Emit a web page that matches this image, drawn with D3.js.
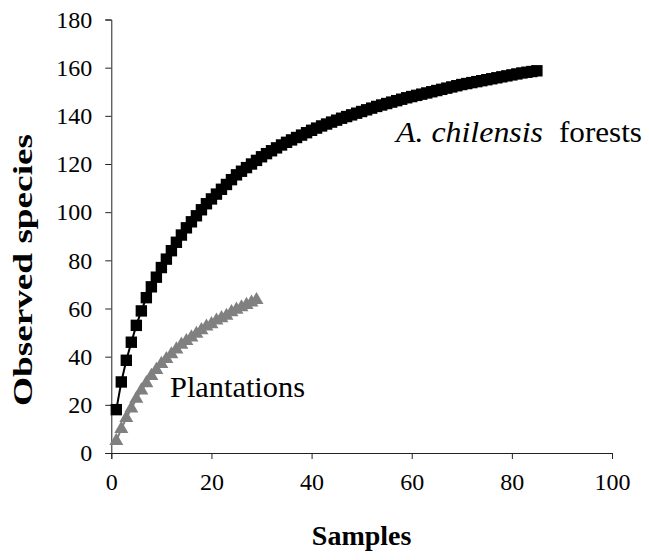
<!DOCTYPE html>
<html>
<head>
<meta charset="utf-8">
<script src="https://cdn.jsdelivr.net/npm/d3@7/dist/d3.min.js"></script>
<style>
  html, body { margin: 0; padding: 0; background: #fff; }
  svg { display: block; }
</style>
</head>
<body>
<svg id="chart" width="649" height="560"></svg>
<script>
// ---- data ----
const forestSamples = d3.range(1, 86);
const forestValues = [
  18, 29.5, 38.5, 46, 53, 59, 64.5, 69, 73, 77,
  80.5, 84, 87.5, 90.5, 93.5, 96, 98.5, 101, 103.5, 105.5,
  107.5, 109.5, 111.5, 113.5, 115.5, 117, 118.5, 120, 121.5, 123,
  124.3, 125.5, 126.7, 127.9, 129, 130, 131, 132, 133, 134,
  134.9, 135.8, 136.6, 137.4, 138.2, 139, 139.7, 140.4, 141.1, 141.8,
  142.5, 143.2, 143.9, 144.5, 145.1, 145.7, 146.3, 146.9, 147.5, 148,
  148.5, 149, 149.5, 150, 150.5, 151, 151.5, 152, 152.5, 153,
  153.4, 153.8, 154.2, 154.6, 155, 155.4, 155.8, 156.2, 156.6, 157,
  157.4, 157.8, 158.1, 158.4, 158.7
];
const plantationSamples = d3.range(1, 30);
const plantationValues = [
  5, 10, 14.5, 18.5, 22.5, 26, 29, 32, 34.5, 37,
  39, 41, 43, 45, 46.5, 48, 49.5, 51, 52.5, 53.5,
  55, 56, 57, 58.5, 59.5, 60.5, 61.5, 62.5, 63.5
];
const xTicks = [0, 20, 40, 60, 80, 100];
const yTicks = [0, 20, 40, 60, 80, 100, 120, 140, 160, 180];
const xTitle = "Samples";
const yTitle = "Observed species";

// ---- chart ----
const FONT = "'Liberation Serif'";
const svg = d3.select("#chart");
const x = d3.scaleLinear().domain([0, 100]).range([111.3, 612]);
const y = d3.scaleLinear().domain([0, 180]).range([453, 19.5]);
const axisColor = "#222";

// axes
const gx = svg.append("g").attr("transform", `translate(0,${y(0)})`)
  .call(d3.axisBottom(x).tickValues(xTicks).tickSize(6).tickSizeOuter(6).tickPadding(14));
const gy = svg.append("g").attr("transform", `translate(${x(0)},0)`)
  .call(d3.axisLeft(y).tickValues(yTicks).tickSize(6).tickSizeOuter(6).tickPadding(13));
[gx, gy].forEach(g => {
  g.attr("font-family", null).attr("font-size", null);
  g.selectAll("path.domain").attr("stroke", axisColor);
  g.selectAll(".tick line").attr("stroke", axisColor);
  g.selectAll("text").attr("style", `font-family:${FONT};font-size:24px`).attr("fill", "#000");
});
gx.selectAll("text").attr("dy", "0.71em");

// series
const forest = forestSamples.map((s, i) => [s, forestValues[i]]);
const plant = plantationSamples.map((s, i) => [s, plantationValues[i]]);
const line = d3.line().x(d => x(d[0])).y(d => y(d[1]));

svg.append("path").datum(plant).attr("d", line)
  .attr("fill", "none").attr("stroke", "#808080").attr("stroke-width", 2);
svg.append("g").selectAll("path").data(plant).join("path")
  .attr("d", d3.symbol(d3.symbolTriangle, 85))
  .attr("transform", d => `translate(${x(d[0])},${y(d[1])})`)
  .attr("fill", "#808080");

svg.append("path").datum(forest).attr("d", line)
  .attr("fill", "none").attr("stroke", "#000").attr("stroke-width", 2);
svg.append("g").selectAll("path").data(forest).join("path")
  .attr("d", d3.symbol(d3.symbolSquare, 130))
  .attr("transform", d => `translate(${x(d[0])},${y(d[1])})`)
  .attr("fill", "#000");

// series labels
svg.append("text").attr("x", 396).attr("y", 142)
  .attr("style", `font-family:${FONT};font-size:29px;font-style:italic`)
  .attr("textLength", 147).attr("lengthAdjust", "spacingAndGlyphs")
  .text("A. chilensis");
svg.append("text").attr("x", 559).attr("y", 142)
  .attr("style", `font-family:${FONT};font-size:29px`)
  .attr("textLength", 83).attr("lengthAdjust", "spacingAndGlyphs")
  .text("forests");
svg.append("text").attr("x", 170).attr("y", 397)
  .attr("style", `font-family:${FONT};font-size:30px`)
  .attr("textLength", 135).attr("lengthAdjust", "spacingAndGlyphs")
  .text("Plantations");

// axis titles
svg.append("text").attr("x", (x(0) + x(100)) / 2).attr("y", 545)
  .attr("text-anchor", "middle")
  .attr("style", `font-family:${FONT};font-size:28px;font-weight:bold`)
  .text(xTitle);
svg.append("text")
  .attr("transform", "translate(32,270) rotate(-90)")
  .attr("text-anchor", "middle")
  .attr("style", `font-family:${FONT};font-size:28px;font-weight:bold`)
  .attr("textLength", 272).attr("lengthAdjust", "spacingAndGlyphs")
  .text(yTitle);
</script>
</body>
</html>
